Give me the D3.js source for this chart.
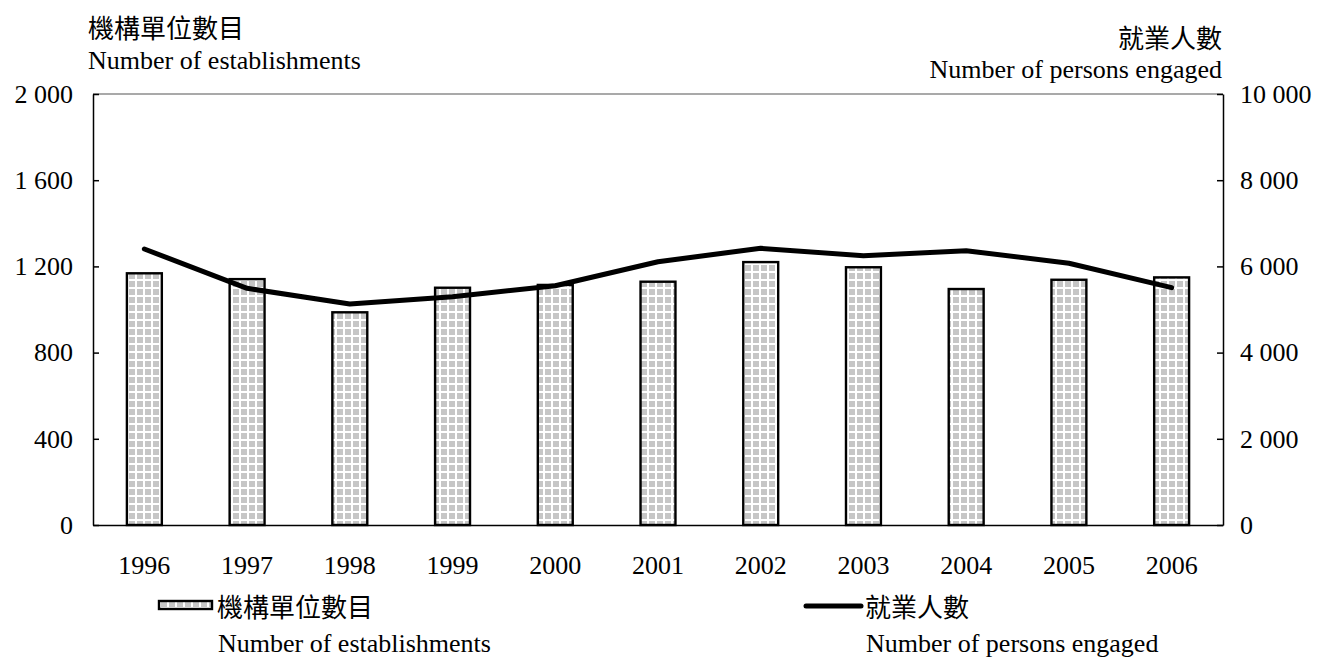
<!DOCTYPE html>
<html>
<head>
<meta charset="utf-8">
<script src="https://cdn.jsdelivr.net/npm/d3@7"></script>
<style>
  html, body { margin: 0; padding: 0; background: #fff; }
  svg { display: block; }
  text { font-family: "Liberation Serif", "Noto Sans CJK TC", serif; fill: #000; }
  .cjk { font-family: "Noto Sans CJK TC", "Liberation Serif", sans-serif; }
</style>
</head>
<body>
<svg id="chart" width="1320" height="657"></svg>
<script>
// Establishments and persons engaged, 1996-2006
const years = ["1996", "1997", "1998", "1999", "2000", "2001", "2002", "2003", "2004", "2005", "2006"];
const establishments = [1168, 1141, 987, 1101, 1114, 1129, 1220, 1196, 1095, 1138, 1149];
const personsEngaged = [6404, 5492, 5128, 5297, 5552, 6109, 6420, 6248, 6364, 6072, 5506];
const leftTicks = [0, 400, 800, 1200, 1600, 2000];
const rightTicks = [0, 2000, 4000, 6000, 8000, 10000];

const svg = d3.select("#chart");
const plot = { left: 93, right: 1223, top: 94, bottom: 525 };
const FS = 26;

// number format with a space as thousands separator
const fmt = d3.formatLocale({ decimal: ".", thousands: " ", grouping: [3], currency: ["", ""] }).format(",");

const x = d3.scaleBand()
  .domain(years)
  .range([plot.left, plot.right])
  .paddingInner(0.66)
  .paddingOuter(0.33);

const yL = d3.scaleLinear().domain([0, 2000]).range([plot.bottom, plot.top]);
const yR = d3.scaleLinear().domain([0, 10000]).range([plot.bottom, plot.top]);

// grid fill for the bars
const defs = svg.append("defs");
const pat = defs.append("pattern")
  .attr("id", "grid")
  .attr("patternUnits", "userSpaceOnUse")
  .attr("width", 8).attr("height", 8);
pat.append("rect").attr("width", 8).attr("height", 8).attr("fill", "#ffffff");
pat.append("rect").attr("x", 1).attr("y", 1).attr("width", 6).attr("height", 6).attr("fill", "#c6c6c6");

// top frame line
svg.append("line")
  .attr("x1", plot.left).attr("x2", plot.right)
  .attr("y1", plot.top).attr("y2", plot.top)
  .attr("stroke", "#8c8c8c").attr("stroke-width", 1.5);

// bars
svg.append("g").selectAll("rect")
  .data(years)
  .join("rect")
  .attr("x", d => x(d))
  .attr("y", (d, i) => yL(establishments[i]))
  .attr("width", x.bandwidth())
  .attr("height", (d, i) => yL(0) - yL(establishments[i]))
  .attr("fill", "url(#grid)")
  .attr("stroke", "#000")
  .attr("stroke-width", 2.4);

// left axis
const gL = svg.append("g")
  .attr("transform", `translate(${plot.left},0)`)
  .call(d3.axisLeft(yL).tickValues(leftTicks).tickFormat(fmt).tickSizeInner(-6).tickSizeOuter(0).tickPadding(20));

// right axis
const gR = svg.append("g")
  .attr("transform", `translate(${plot.right},0)`)
  .call(d3.axisRight(yR).tickValues(rightTicks).tickFormat(fmt).tickSizeInner(-6).tickSizeOuter(0).tickPadding(17));

// bottom axis
const gB = svg.append("g")
  .attr("transform", `translate(0,${plot.bottom})`)
  .call(d3.axisBottom(x).tickSize(0).tickPadding(31));

[gL, gR, gB].forEach(g => {
  g.select(".domain").attr("stroke", "#000").attr("stroke-width", 1.5);
  g.selectAll(".tick line").attr("stroke", "#000").attr("stroke-width", 1.5);
  g.selectAll(".tick text").attr("font-size", FS).attr("font-family", "Liberation Serif");
});

// persons engaged line
const line = d3.line()
  .x((d, i) => x(years[i]) + x.bandwidth() / 2)
  .y(d => yR(d));

svg.append("path")
  .datum(personsEngaged)
  .attr("d", line)
  .attr("fill", "none")
  .attr("stroke", "#000")
  .attr("stroke-width", 5)
  .attr("stroke-linejoin", "round")
  .attr("stroke-linecap", "round");

// axis titles
svg.append("text").attr("class", "cjk").attr("x", 88).attr("y", 38).attr("font-size", FS).text("機構單位數目");
svg.append("text").attr("x", 88).attr("y", 69).attr("font-size", FS).text("Number of establishments");
svg.append("text").attr("class", "cjk").attr("x", 1222).attr("y", 48).attr("font-size", FS).attr("text-anchor", "end").text("就業人數");
svg.append("text").attr("x", 1222).attr("y", 78).attr("font-size", FS).attr("text-anchor", "end").text("Number of persons engaged");

// legend
const lg = svg.append("g");
lg.append("rect")
  .attr("x", 159).attr("y", 601).attr("width", 53).attr("height", 8)
  .attr("fill", "url(#grid)").attr("stroke", "#000").attr("stroke-width", 2.4);
lg.append("text").attr("class", "cjk").attr("x", 217).attr("y", 617).attr("font-size", FS).text("機構單位數目");
lg.append("text").attr("x", 218).attr("y", 652).attr("font-size", FS).text("Number of establishments");

lg.append("line")
  .attr("x1", 806).attr("x2", 861).attr("y1", 606).attr("y2", 606)
  .attr("stroke", "#000").attr("stroke-width", 5).attr("stroke-linecap", "round");
lg.append("text").attr("class", "cjk").attr("x", 865).attr("y", 617).attr("font-size", FS).text("就業人數");
lg.append("text").attr("x", 866).attr("y", 652).attr("font-size", FS).text("Number of persons engaged");
</script>
</body>
</html>
